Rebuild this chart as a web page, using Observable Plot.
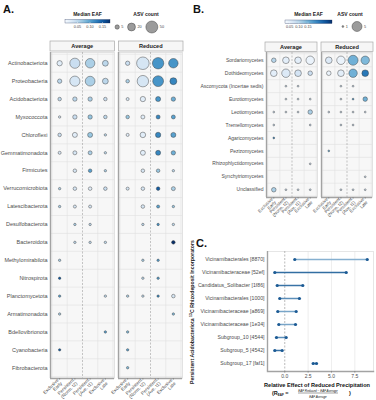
<!DOCTYPE html>
<html><head><meta charset="utf-8">
<script src="https://cdn.jsdelivr.net/npm/d3@7"></script>
<script src="https://cdn.jsdelivr.net/npm/@observablehq/plot@0.6"></script>
<style>
html,body{margin:0;padding:0;background:#fff}
#root{position:relative;width:376px;height:400px;overflow:hidden;font-family:'Liberation Sans',Arial,Helvetica,sans-serif}
.slot{position:absolute}
.slot svg{display:block}
#overlay{position:absolute;left:0;top:0;pointer-events:none}
</style></head>
<body><div id="root"></div>
<script>
const _ = null;
// ---------- shared categories ----------
const treatments = ["Average", "Reduced"];
const groupLabels = ["Exclusive\nEarly", "Persistent\n(Norm. t2)", "Persistent\n(Ave. t1)", "Exclusive\nLate"];

// ---------- Panel A: bacterial phyla ----------
const bacteria = ["Actinobacteriota","Proteobacteria","Acidobacteriota","Myxococcota","Chloroflexi","Gemmatimonadota","Firmicutes","Verrucomicrobiota","Latescibacterota","Desulfobacterota","Bacteroidota","Methylomirabilota","Nitrospirota","Planctomycetota","Armatimonadota","Bdellovibrionota","Cyanobacteria","Fibrobacterota"];
const bacAvgCount = [[8,35,30,10],[5,35,32,10],[3,5,5,3],[1,5,5,3],[3,7,7,1],[2,4,4,1],[_,3,3,1],[1,3,3,3],[1,2,2,_],[_,1,1,_],[_,1,1,1],[1,_,_,_],[1,_,_,_],[1,_,_,1],[1,_,_,_],[_,_,_,1],[1,_,_,_],[_,_,_,_]];
const bacAvgEAF = [[0.02,0.04,0.06,0.05],[0.05,0.03,0.06,0.05],[0.05,0.05,0.06,0.04],[0.03,0.04,0.07,0.05],[0.04,0.02,0.07,0.05],[0.03,0.03,0.06,0.05],[_,0.03,0.10,0.06],[0.06,0.03,0.02,0.04],[0.06,0.03,0.03,_],[_,0.06,0.05,_],[_,0.05,0.05,0.05],[0.06,_,_,_],[0.15,_,_,_],[0.10,_,_,0.05],[0.06,_,_,_],[_,_,_,0.10],[0.15,_,_,_],[_,_,_,_]];
const bacRedCount = [[5,55,45,30],[3,45,40,15],[2,8,7,5],[3,4,4,4],[2,9,8,7],[_,7,7,5],[_,3,3,1],[2,3,3,4],[_,3,2,1],[_,1,1,1],[_,_,_,3],[_,1,1,_],[_,1,1,_],[1,1,1,3],[_,_,_,1],[1,_,_,_],[1,_,_,_],[1,_,_,_]];
const bacRedEAF = [[0.04,0.03,0.11,0.11],[0.06,0.03,0.11,0.12],[0.03,0.02,0.11,0.09],[0.07,0.02,0.12,0.10],[0.02,0.02,0.12,0.10],[_,0.02,0.12,0.09],[_,0.03,0.07,0.05],[0.03,0.03,0.15,0.06],[_,0.03,0.10,0.07],[_,0.05,0.11,0.05],[_,_,_,0.18],[_,0.06,0.10,_],[_,0.05,0.10,_],[0.06,0.05,0.12,0.03],[_,_,_,0.08],[0.08,_,_,_],[0.10,_,_,_],[0.08,_,_,_]];

// ---------- Panel B: fungal classes ----------
const fungi = ["Sordariomycetes","Dothideomycetes","Ascomycota (Incertae sedis)","Eurotiomycetes","Leotiomycetes","Tremellomycetes","Agaricomycetes","Pezizomycetes","Rhizophlyctidomycetes","Synchytriomycetes","Unclassified"];
const fungAvgCount = [[2,3,3,4],[3,4,3,2],[_,1,1,_],[_,1,1,1],[1,1,1,2],[1,_,_,1],[1,_,_,_],[_,_,_,_],[_,_,_,1],[_,_,_,_],[2,1,1,1]];
const fungAvgEAF = [[0.10,0.05,0.05,0.04],[0.05,0.06,0.07,0.08],[_,0.08,0.08,_],[_,0.08,0.08,0.08],[0.08,0.08,0.08,0.11],[0.08,_,_,0.08],[0.20,_,_,_],[_,_,_,_],[_,_,_,0.08],[_,_,_,_],[0.11,0.08,0.08,0.08]];
const fungRedCount = [[3,4,5,4],[2,3,4,3],[_,1,1,_],[_,1,1,2],[1,1,1,1],[_,1,1,_],[_,_,_,_],[1,_,_,_],[_,_,_,_],[_,_,_,1],[_,1,1,1]];
const fungRedEAF = [[0.06,0.04,0.15,0.14],[0.04,0.05,0.15,0.21],[_,0.08,0.08,_],[_,0.08,0.18,0.15],[0.08,0.08,0.08,0.08],[_,0.08,0.08,_],[_,_,_,_],[0.15,_,_,_],[_,_,_,_],[_,_,_,0.08],[_,0.08,0.08,0.08]];

// ---------- Panel C: persistent Acidobacteriota ----------
const asvLabels = ["Vicinamibacterales [8870]","Vicinamibacteraceae [52ef]","Candidatus_Solibacter [1f86]","Vicinamibacterales [1000]","Vicinamibacteraceae [a869]","Vicinamibacteraceae [1e34]","Subgroup_10 [4544]","Subgroup_5 [4542]","Subgroup_17 [faf1]"];
const rEAFLow  = [1.07,-1.07,-0.81,-0.54,-0.75,-0.64,-0.89,-1.07,3.04];
const rEAFHigh = [8.83, 6.58, 1.93, 1.57, 1.22, 1.15, 0.15,-0.28,3.40];
const lineTone = [0.25, 0.85, 0.80, 0.55, 0.35, 0.35, 0.55, 0.80, 0.85];
const cTicks = [0, 2.5, 5, 7.5];

// ---------- legend values ----------
const eafLegendTicks = [0.05, 0.10, 0.15];
const sizeLegendA = [5, 20, 50];
const sizeLegendB = [1, 5];

const FONT = "'Liberation Sans', Arial, Helvetica, sans-serif";
const root = d3.select("#root");

function bubblePanel(o) {
  const n = o.names.length;
  const data = [];
  treatments.forEach((t, k) => o.names.forEach((name, i) => groupLabels.forEach((g, j) => {
    const c = o.cnt[k][i][j];
    if (c != null) data.push({t, name, row: i + 1, col: j + 1, count: c, eaf: o.eaf[k][i][j]});
  })));
  const colIdx = groupLabels.map((g, j) => j + 1);
  const rowIdx = o.names.map((d, i) => i + 1);
  const rowBounds = d3.range(0, n + 1).map(i => i + 0.5);
  const colBounds = [0.5, 1.5, 3.5, 4.5];
  return Plot.plot({
    width: o.width, height: o.height,
    marginLeft: o.marginLeft, marginRight: o.marginRight, marginTop: o.marginTop, marginBottom: o.marginBottom,
    style: {fontFamily: FONT, color: "#4d4d4d", background: "transparent", overflow: "visible"},
    fx: {domain: treatments, paddingInner: o.fxPad, paddingOuter: 0, axis: null},
    x: {domain: [0.4, 4.6], axis: null},
    y: {domain: [0.4, n + 0.6], reverse: true, axis: null},
    r: {type: "sqrt", domain: o.rDomain, range: o.rRange},
    color: {type: "linear", scheme: "blues", domain: o.colorDomain, clamp: true},
    marks: [
      Plot.frame({fill: "#f7f7f7", stroke: "#d2d2d2", strokeWidth: 0.6}),
      Plot.ruleY(rowBounds, {stroke: "#e1e1e1", strokeWidth: 0.6}),
      Plot.ruleX(colBounds, {stroke: "#e1e1e1", strokeWidth: 0.6}),
      Plot.ruleX([2.5], {stroke: "#a0a0a0", strokeWidth: 0.6, strokeDasharray: "2,1.5"}),
      Plot.ruleX([0.4], {stroke: "#a3a3a3", strokeWidth: 1.4}),
      Plot.ruleY([n + 0.6], {stroke: "#a3a3a3", strokeWidth: 1.4}),
      Plot.axisY({ticks: rowIdx, tickFormat: i => o.names[i - 1], tickSize: 0, tickPadding: 3, fontSize: o.yFont, label: null}),
      Plot.axisX({ticks: colIdx, tickFormat: i => groupLabels[i - 1], tickRotate: -45, tickSize: 1.5, tickPadding: 1, fontSize: o.xFont, label: null, stroke: "#888"}),
      Plot.dot(data, {x: "col", y: "row", fx: "t", r: "count", fill: "eaf", stroke: "#3a3a3a", strokeWidth: 0.45})
    ]
  });
}

function place(node, left, top) {
  root.append("div").attr("class", "slot").style("left", left + "px").style("top", top + "px").node().appendChild(node);
}

// Panel A
const A = {names: bacteria, cnt: [bacAvgCount, bacRedCount], eaf: [bacAvgEAF, bacRedEAF], width: 190, height: 400,
  marginLeft: 50, marginRight: 7, marginTop: 52, marginBottom: 22, fxPad: 0.058,
  colorDomain: [0, 0.18], rDomain: [1, 50], rRange: [1.2, 6], yFont: 5.5, xFont: 4.7};
const chartA = bubblePanel(A);
place(chartA, 0, 0);

// Panel B
const B = {names: fungi, cnt: [fungAvgCount, fungRedCount], eaf: [fungAvgEAF, fungRedEAF], width: 186, height: 220,
  marginLeft: 75, marginRight: 3, marginTop: 52, marginBottom: 23, fxPad: 0.0714,
  colorDomain: [0.025, 0.28], rDomain: [1, 5], rRange: [0.9, 5], yFont: 5, xFont: 4.5};
const chartB = bubblePanel(B);
place(chartB, 190, 0);

// Panel C
const cRows = asvLabels.map((label, i) => ({label, lo: rEAFLow[i], hi: rEAFHigh[i], tone: lineTone[i]}));
const chartC = Plot.plot({
  width: 186, height: 160, marginLeft: 77, marginRight: 3, marginTop: 11, marginBottom: 29,
  style: {fontFamily: FONT, color: "#4d4d4d", background: "transparent", overflow: "visible"},
  x: {domain: [-1.85, 9.5], axis: null},
  y: {type: "point", domain: asvLabels, padding: 0.6, axis: null},
  color: {type: "linear", domain: [0, 1], range: ["#a9cbe3", "#1d5d97"]},
  marks: [
    Plot.frame({stroke: "#d6d6d6", strokeWidth: 0.6}),
    Plot.gridX({ticks: cTicks.filter(t => t !== 0), stroke: "#e3e3e3", strokeOpacity: 1, strokeWidth: 0.6}),
    Plot.ruleX([0], {stroke: "#a8a8a8", strokeWidth: 0.8, strokeDasharray: "2,1.5"}),
    Plot.ruleX([-1.85], {stroke: "#a3a3a3", strokeWidth: 1.4}),
    Plot.frame({anchor: "bottom", stroke: "#a3a3a3", strokeWidth: 1.4}),
    Plot.axisX({ticks: cTicks, tickFormat: d3.format(".1f"), tickSize: 1.5, tickPadding: 1.5, fontSize: 5, label: null, stroke: "#888"}),
    Plot.axisY({tickSize: 0, tickPadding: 3, fontSize: 5.2, label: null}),
    Plot.ruleY(cRows, {y: "label", x1: "lo", x2: "hi", stroke: "tone", strokeWidth: 1.5}),
    Plot.dot(cRows, {x: "lo", y: "label", r: 1.6, fill: "#1b5a94"}),
    Plot.dot(cRows, {x: "hi", y: "label", r: 1.6, fill: "#1b5a94"})
  ]
});
place(chartC, 190, 240);

// ---------- overlay: labels, strips, legends, titles ----------
const svg = root.append("svg").attr("id", "overlay").attr("width", 376).attr("height", 400)
  .attr("font-family", FONT);
const defs = svg.append("defs");

function panelLetter(t, x, y) {
  svg.append("text").attr("x", x).attr("y", y).attr("font-size", 11).attr("font-weight", "bold").attr("fill", "#111").text(t);
}
panelLetter("A.", 3, 13);
panelLetter("B.", 193, 13);
panelLetter("C.", 196, 247);

function strips(cfg, top, h) {
  const band = d3.scaleBand().domain(treatments).range([cfg.offset + cfg.marginLeft, cfg.offset + cfg.width - cfg.marginRight]).paddingInner(cfg.fxPad).paddingOuter(0);
  treatments.forEach(t => {
    svg.append("rect").attr("x", band(t)).attr("y", top).attr("width", band.bandwidth()).attr("height", h)
      .attr("fill", "#f6f6f6").attr("stroke", "#a9a9a9").attr("stroke-width", 0.7);
    svg.append("text").attr("x", band(t) + band.bandwidth() / 2).attr("y", top + h / 2 + 2)
      .attr("text-anchor", "middle").attr("font-size", 5.6).attr("font-weight", "bold").attr("fill", "#222").text(t);
  });
}
strips({...A, offset: 0}, 41, 10);
strips({...B, offset: 190}, 42, 9.5);

function colorLegend(chart, {x, y, w, h, id, titleX}) {
  const sc = chart.scale("color");
  const s = Plot.scale({color: sc});
  const [d0, d1] = sc.domain;
  const grad = defs.append("linearGradient").attr("id", id);
  d3.range(0, 1.0001, 0.1).forEach(t => grad.append("stop").attr("offset", t).attr("stop-color", s.apply(d0 + t * (d1 - d0))));
  svg.append("text").attr("x", titleX ?? x + w / 2).attr("y", y - 4).attr("text-anchor", "middle")
    .attr("font-size", 5).attr("font-weight", "bold").attr("fill", "#222").text("Median EAF");
  svg.append("rect").attr("x", x).attr("y", y).attr("width", w).attr("height", h).attr("fill", `url(#${id})`)
    .attr("stroke", "#1a2a55").attr("stroke-width", 0.3);
  eafLegendTicks.forEach(v => {
    const tx = x + w * (v - d0) / (d1 - d0);
    svg.append("line").attr("x1", tx).attr("x2", tx).attr("y1", y + h - 1).attr("y2", y + h).attr("stroke", "#fff").attr("stroke-width", 0.4);
    svg.append("text").attr("x", tx).attr("y", y + h + 4.5).attr("text-anchor", "middle").attr("font-size", 3.8).attr("fill", "#444").text(d3.format(".2f")(v));
  });
}
colorLegend(chartA, {x: 65, y: 19.5, w: 45, h: 3.5, id: "gA"});
colorLegend(chartB, {x: 285, y: 20, w: 47, h: 3.5, id: "gB"});

function sizeLegend(chart, values, {x, cy, titleX, titleY, gap}) {
  const s = Plot.scale({r: chart.scale("r")});
  svg.append("text").attr("x", titleX).attr("y", titleY).attr("text-anchor", "middle")
    .attr("font-size", 5).attr("font-weight", "bold").attr("fill", "#222").text("ASV count");
  let cur = x;
  values.forEach(v => {
    const r = s.apply(v);
    const cx = cur + r;
    svg.append("circle").attr("cx", cx).attr("cy", cy).attr("r", r).attr("fill", "#9b9b9b").attr("stroke", "#3a3a3a").attr("stroke-width", 0.45);
    const lbl = String(v);
    svg.append("text").attr("x", cx + r + 2).attr("y", cy + 1.4).attr("font-size", 3.8).attr("fill", "#444").text(lbl);
    cur = cx + r + 2 + lbl.length * 2.2 + gap;
  });
}
sizeLegend(chartA, sizeLegendA, {x: 115, cy: 27, titleX: 146, titleY: 15.5, gap: 4});
sizeLegend(chartB, sizeLegendB, {x: 342, cy: 26.5, titleX: 350, titleY: 16, gap: 4});

// Panel C axis titles
svg.append("text").attr("transform", "translate(194,312) rotate(-90)").attr("text-anchor", "middle")
  .attr("font-size", 5.2).attr("font-weight", "bold").attr("fill", "#222")
  .call(t => { t.append("tspan").text("Persistent Acidobacteriota "); t.append("tspan").attr("font-size", 3.5).attr("dy", -1.8).text("13"); t.append("tspan").attr("dy", 1.8).text("C Rhizodeposit Incorporators"); });
svg.append("text").attr("x", 317).attr("y", 386.5).attr("text-anchor", "middle").attr("font-size", 5.6).attr("font-weight", "bold").attr("fill", "#111")
  .text("Relative Effect of Reduced Precipitation");
// formula
const fg = svg.append("g").attr("fill", "#111");
fg.append("text").attr("x", 272).attr("y", 395).attr("font-size", 5.5).attr("font-weight", "bold")
  .call(t => { t.append("tspan").text("(R"); t.append("tspan").attr("font-size", 3).attr("dy", 1).text("EAF"); t.append("tspan").attr("dy", -1).text(" ="); });
fg.append("text").attr("x", 318).attr("y", 391.5).attr("text-anchor", "middle").attr("font-size", 3).attr("font-style", "italic")
  .text("EAF\u2009Reduced \u2212 EAF\u2009Average");
fg.append("line").attr("x1", 298).attr("x2", 338).attr("y1", 393).attr("y2", 393).attr("stroke", "#111").attr("stroke-width", 0.4);
fg.append("text").attr("x", 318).attr("y", 397.5).attr("text-anchor", "middle").attr("font-size", 3).attr("font-style", "italic")
  .text("EAF\u2009Average");
fg.append("text").attr("x", 349).attr("y", 395).attr("font-size", 5.5).attr("font-weight", "bold").text(")");
</script></body></html>
